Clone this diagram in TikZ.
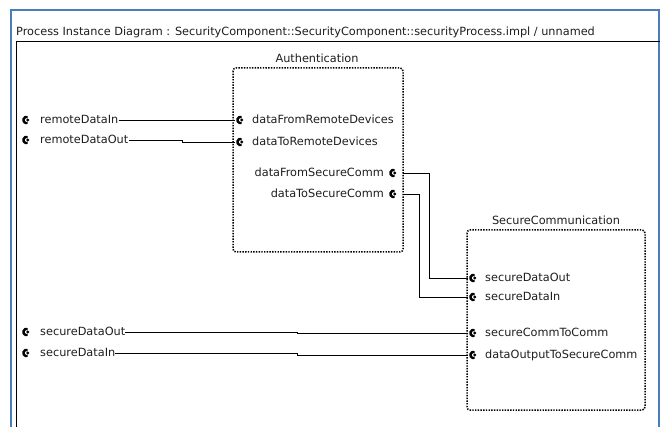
\documentclass[tikz,border=0pt]{standalone}
\usepackage{fontspec}
\setmainfont{DejaVu Sans}
\begin{document}
\begin{tikzpicture}[x=1pt,y=-1pt,
  font=\fontsize{11.3}{13}\selectfont,
  frameblue/.style={draw=framecol,line width=2pt},
  framebox/.style={draw=black,line width=0.9pt},
  compbox/.style={draw=black,line width=1.5pt,dash pattern=on 1.4pt off 1.3pt,rounded corners=3pt},
  lbl/.style={inner sep=0pt,text height=7pt,text depth=0pt,text=textcol},
  porticon/.style={circle,inner sep=0pt,minimum size=9pt,
    path picture={
      \draw[line width=2.4pt,line cap=butt]
        ([xshift=0.6pt]path picture bounding box.center) ++(70:3.2pt) arc[start angle=70,end angle=290,radius=3.2pt];
      \fill ([xshift=1.8pt]path picture bounding box.center) circle[radius=1.6pt];
    }},
  wire/.style={draw=black,line width=0.8pt}]
\definecolor{framecol}{RGB}{74,126,187}
\definecolor{textcol}{RGB}{30,30,30}
\useasboundingbox (0,0) rectangle (661,427);
\fill[white] (0,0) rectangle (661,427);

% outer window frame and diagram frame
\draw[frameblue] (11,427) -- (11,10) -- (659,10) -- (659,427);
\draw[framebox] (16,427) -- (16,41) -- (660,41);
\node[lbl,anchor=west] (title) at (16,32)
  {Process Instance Diagram : SecurityComponent::SecurityComponent::securityProcess.impl / unnamed};

% subcomponent boxes
\draw[compbox] (233,68) rectangle (403,252);
\node[inner sep=0pt,minimum width=170pt,minimum height=184pt,anchor=north west] (auth) at (233,68) {};
\node[lbl] (authname) at (317,59) {Authentication};

\draw[compbox] (467,230) rectangle (645,410);
\node[inner sep=0pt,minimum width=178pt,minimum height=180pt,anchor=north west] (scomm) at (467,230) {};
\node[lbl] (scommname) at (556,221) {SecureCommunication};

% ports of the process
\node[porticon] (pRdIn) at (26,120) {};
\node[lbl,anchor=west] (tRdIn) at (40,120) {remoteDataIn};
\node[porticon] (pRdOut) at (26,140) {};
\node[lbl,anchor=west] (tRdOut) at (40,140) {remoteDataOut};
\node[porticon] (pSdOut) at (26,332) {};
\node[lbl,anchor=west] (tSdOut) at (40,332) {secureDataOut};
\node[porticon] (pSdIn) at (26,353) {};
\node[lbl,anchor=west] (tSdIn) at (40,353) {secureDataIn};

% ports of Authentication
\node[porticon] (aFrd) at (240,120) {};
\node[lbl,anchor=west] (taFrd) at (252,120) {dataFromRemoteDevices};
\node[porticon] (aTrd) at (240,142) {};
\node[lbl,anchor=west] (taTrd) at (252,142) {dataToRemoteDevices};
\node[porticon] (aFsc) at (393,173) {};
\node[lbl,anchor=east] (taFsc) at (384,173) {dataFromSecureComm};
\node[porticon] (aTsc) at (393,194) {};
\node[lbl,anchor=east] (taTsc) at (384,194) {dataToSecureComm};

% ports of SecureCommunication
\node[porticon] (sOut) at (473,278) {};
\node[lbl,anchor=west] (tsOut) at (485,278) {secureDataOut};
\node[porticon] (sIn) at (473,297) {};
\node[lbl,anchor=west] (tsIn) at (485,297) {secureDataIn};
\node[porticon] (sToComm) at (473,333) {};
\node[lbl,anchor=west] (tsToComm) at (485,333) {secureCommToComm};
\node[porticon] (sDots) at (473,355) {};
\node[lbl,anchor=west] (tsDots) at (485,355) {dataOutputToSecureComm};

% connections
\draw[wire] (tRdIn.east) -- (aFrd.west);
\draw[wire] (tRdOut.east) -- (182,140) -- (182,142) -- (aTrd.west);
\draw[wire] (auth.east |- aFsc) -- (429,173) |- (sOut.west);
\draw[wire] (auth.east |- aTsc) -- (419,194) |- (sIn.west);
\draw[wire] (tSdOut.east) -- (297,332) -- (297,333) -- (sToComm.west);
\draw[wire] (tSdIn.east) -- (297,353) -- (297,355) -- (sDots.west);
\end{tikzpicture}
\end{document}
